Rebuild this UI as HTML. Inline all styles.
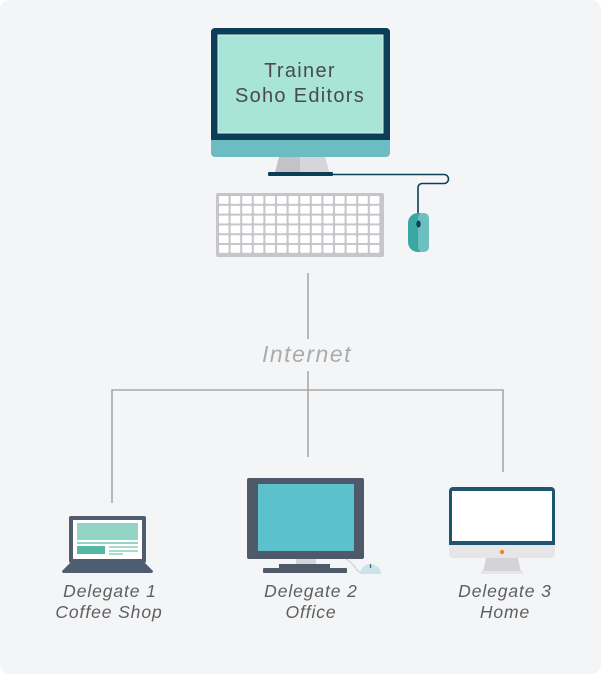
<!DOCTYPE html>
<html><head><meta charset="utf-8"><style>
html,body{margin:0;padding:0;background:#fff;}
svg{display:block}
text{font-family:"Liberation Sans",sans-serif;font-style:italic;}
</style></head><body>
<svg width="601" height="674" viewBox="0 0 601 674" xmlns="http://www.w3.org/2000/svg">
<defs>
<pattern id="keys" x="219" y="196" width="11.6" height="9.8" patternUnits="userSpaceOnUse">
<rect x="0" y="0" width="9.6" height="7.8" rx="1" fill="#fff"/>
</pattern>
</defs>
<rect x="0" y="0" width="601" height="674" rx="10" fill="#f4f5f7"/>
<rect x="211" y="28" width="179" height="129" rx="4" fill="#6bbcc3"/>
<path d="M211 32 a4 4 0 0 1 4 -4 h171 a4 4 0 0 1 4 4 v108 h-179z" fill="#0c3f57"/>
<rect x="218" y="35" width="165" height="98" fill="#a8e4d8" stroke="#d6f3ee" stroke-width="1"/>
<text x="300" y="77" font-size="20" fill="#4a4a4a" text-anchor="middle" letter-spacing="1.3" style="font-style:normal">Trainer</text>
<text x="300" y="102" font-size="20" fill="#4a4a4a" text-anchor="middle" letter-spacing="1.3" style="font-style:normal">Soho Editors</text>
<path d="M279 157 h46 l4 15 h-54z" fill="#c3c3c7"/>
<path d="M300 157 h25 l4 15 h-29z" fill="#d6d6da"/>
<rect x="268" y="172" width="65" height="4" rx="1" fill="#0c3f57"/>
<path d="M333 174.5 H444 a4 4 0 0 1 0 9 H422 a4 4 0 0 0 -4 4 V214" fill="none" stroke="#0c3f57" stroke-width="1.6"/>
<rect x="408" y="213" width="21" height="39" rx="10" fill="#3aa7a3"/>
<rect x="418" y="213" width="11" height="39" rx="5" fill="#6cc0bf"/>
<ellipse cx="418.5" cy="224" rx="2.2" ry="3.5" fill="#0c3f57"/>
<rect x="216" y="193" width="168" height="64" rx="2" fill="#c6c6ca"/>
<rect x="219" y="196" width="162" height="58" fill="url(#keys)"/>
<g stroke="#a9a9a9" stroke-width="1.6" fill="none">
<line x1="308" y1="273" x2="308" y2="339"/>
<line x1="308" y1="371" x2="308" y2="457"/>
<polyline points="112,503 112,390 503,390 503,472"/>
</g>
<text x="307" y="362" font-size="23" fill="#ababab" text-anchor="middle" letter-spacing="1.5">Internet</text>
<rect x="69" y="516" width="77" height="47" rx="2" fill="#4e5e70"/>
<rect x="73" y="520" width="69" height="39" fill="#fff"/>
<rect x="77" y="523" width="61" height="17" fill="#94d4c6"/>
<rect x="77" y="542" width="61" height="2" fill="#94d4c6"/>
<rect x="77" y="546" width="28" height="8" fill="#54b8a3"/>
<rect x="109" y="546" width="29" height="2" fill="#a9dccf"/>
<rect x="109" y="550" width="29" height="2" fill="#a9dccf"/>
<rect x="109" y="553" width="14" height="2" fill="#a9dccf"/>
<path d="M70 563 h75 l8 8 q0 2 -2 2 h-87 q-2 0 -2 -2z" fill="#4e5e70"/>
<rect x="247" y="478" width="117" height="81" rx="2" fill="#4e5a6a"/>
<rect x="258" y="484" width="96" height="67" fill="#5ac1cd"/>
<rect x="296" y="559" width="20" height="5" fill="#d0d6da"/>
<rect x="279" y="564" width="51" height="5" fill="#4e5a6a"/>
<rect x="263" y="568" width="84" height="5" rx="1" fill="#4e5a6a"/>
<path d="M346 559 q8 5 10 10 q3 4 8 4" fill="none" stroke="#bccbd2" stroke-width="1"/>
<path d="M360 574 a10.5 10 0 0 1 21 0z" fill="#c9e4ea"/>
<line x1="370.5" y1="564" x2="370.5" y2="568" stroke="#4e5a6a" stroke-width="1.2"/>
<rect x="449" y="487" width="106" height="71" rx="4" fill="#e6e6e8"/>
<path d="M449 491 a4 4 0 0 1 4 -4 h98 a4 4 0 0 1 4 4 v54 h-106z" fill="#1f5470"/>
<rect x="452" y="491" width="100" height="50" fill="#fff"/>
<circle cx="502" cy="552" r="2.2" fill="#f08a1c"/>
<path d="M486 558 h32 l3 14 h-38z" fill="#d4d4d6"/>
<rect x="481" y="571" width="42" height="3" fill="#e6e6e8"/>
<g font-size="17.5" fill="#5e5e5e" text-anchor="middle" letter-spacing="0.9">
<text x="110" y="597">Delegate 1</text>
<text x="109" y="618">Coffee Shop</text>
<text x="311" y="597">Delegate 2</text>
<text x="311" y="618">Office</text>
<text x="505" y="597">Delegate 3</text>
<text x="505" y="618">Home</text>
</g>
</svg>
</body></html>
